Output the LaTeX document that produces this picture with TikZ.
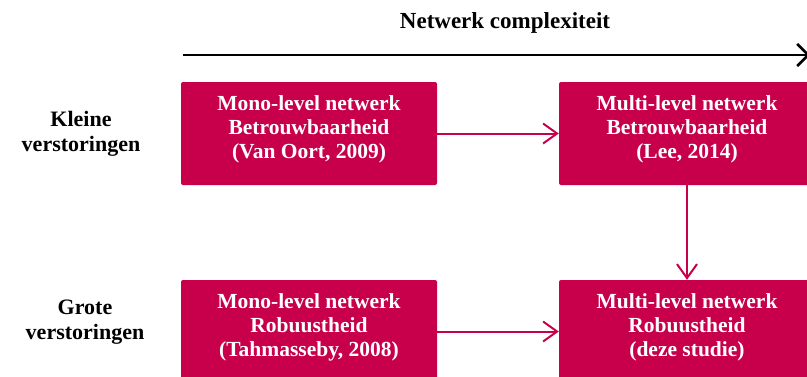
\documentclass[tikz,border=0pt]{standalone}
\usepackage{fontspec}
\setmainfont{Liberation Serif}
\usetikzlibrary{arrows.meta}
\definecolor{crim}{RGB}{200,0,75}
\begin{document}
\begin{tikzpicture}[x=1pt,y=-1pt,
  box/.style={fill=crim, rounded corners=2pt, minimum width=256pt, minimum height=103pt, inner sep=0pt},
  boxtext/.style={text=white, font=\fontsize{21.5}{24}\selectfont\bfseries, align=center, inner sep=0pt},
  side/.style={text=black, font=\fontsize{22}{25}\selectfont\bfseries, align=center, inner sep=0pt},
  conn/.style={draw=crim, line width=2pt, -{Straight Barb[length=14pt,width=20pt]}},
  axis/.style={draw=black, line width=2.5pt, -{Straight Barb[length=11pt,width=22pt]}},
]
\useasboundingbox (0,0) rectangle (807,376);
\clip (0,0) rectangle (807,376);

\node[side, font=\fontsize{23}{25}\selectfont\bfseries] (title) at (505,23) {Netwerk complexiteit};
\coordinate (axs) at (183,55);
\coordinate (axe) at (810,55);
\draw[axis] (axs) -- (axe);

\node[side] (kl) at (81,134) {Kleine\\verstoringen};
\node[side] (gr) at (85,322) {Grote\\verstoringen};

\node[box] (a) at (309,133.5) {};
\node[box] (b) at (687,133.5) {};
\node[box] (c) at (309,331.5) {};
\node[box] (d) at (687,331.5) {};

\node[boxtext] (ta) at (309,129) {Mono-level netwerk\\Betrouwbaarheid\\(Van Oort, 2009)};
\node[boxtext] (tb) at (687,129) {Multi-level netwerk\\Betrouwbaarheid\\(Lee, 2014)};
\node[boxtext] (tc) at (309,327) {Mono-level netwerk\\Robuustheid\\(Tahmasseby, 2008)};
\node[boxtext] (td) at (687,327) {Multi-level netwerk\\Robuustheid\\(deze studie)};

\draw[conn] (a.east) -- (b.west);
\draw[conn] (c.east) -- (d.west);
\draw[conn] (b.south) -- (d.north);
\end{tikzpicture}
\end{document}
